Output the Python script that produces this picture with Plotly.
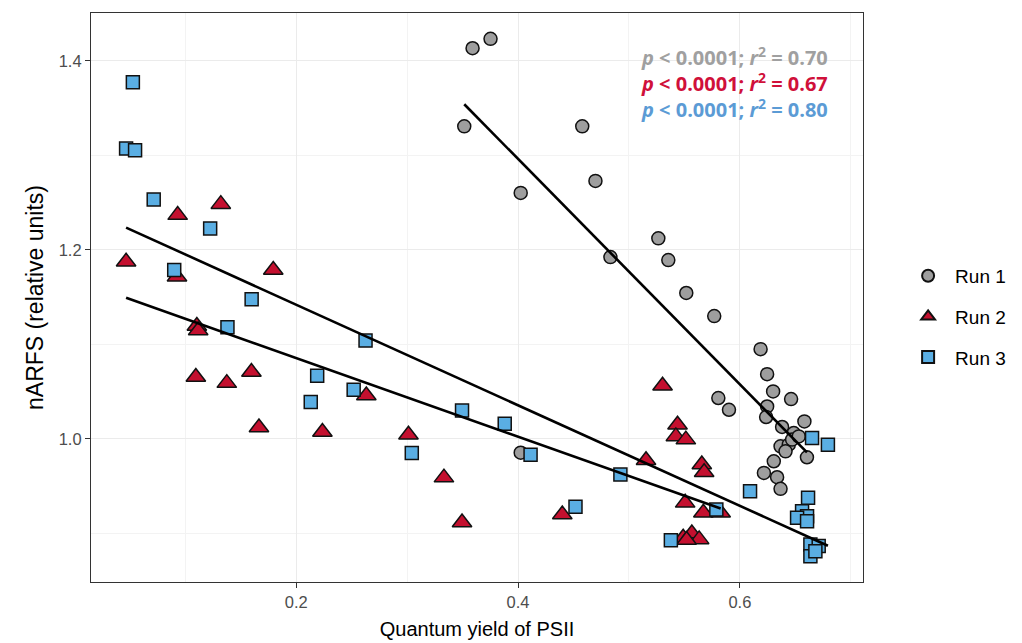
import numpy as np
import plotly.graph_objects as go

# ---- data ----
run1_x = [0.3515, 0.3590, 0.3752, 0.4024, 0.4024, 0.4579, 0.4698, 0.4833, 0.5265, 0.5355,
          0.5517, 0.5769, 0.5806, 0.5902, 0.6187, 0.6246, 0.6300, 0.6462, 0.6246, 0.6237,
          0.6381, 0.6582, 0.6486, 0.6367, 0.6441, 0.6471, 0.6531, 0.6412, 0.6605, 0.6306,
          0.6217, 0.6336, 0.6367]
run1_y = [1.3308, 1.4135, 1.4234, 1.2604, 0.9855, 1.3308, 1.2731, 1.1925, 1.2123, 1.1893,
          1.1545, 1.1300, 1.0433, 1.0309, 1.0950, 1.0686, 1.0503, 1.0422, 1.0344, 1.0232,
          1.0127, 1.0186, 1.0063, 0.9922, 0.9940, 0.9993, 1.0027, 0.9869, 0.9806, 0.9764,
          0.9641, 0.9595, 0.9472]

run2_x = [0.0466, 0.0931, 0.0925, 0.1320, 0.1793, 0.1104, 0.1116, 0.1095, 0.1374, 0.1596,
          0.1664, 0.2236, 0.2632, 0.3012, 0.3332, 0.3495, 0.4399, 0.5154, 0.5303, 0.5438,
          0.5423, 0.5513, 0.5657, 0.5678, 0.5507, 0.5671, 0.5827, 0.5489, 0.5567, 0.5633,
          0.5520]
run2_y = [1.1875, 1.2369, 1.1717, 1.2485, 1.1788, 1.1196, 1.1147, 1.0655, 1.0591, 1.0708,
          1.0122, 1.0074, 1.0460, 1.0045, 0.9591, 0.9116, 0.9200, 0.9774, 1.0563, 1.0151,
          1.0027, 0.9993, 0.9729, 0.9647, 0.9324, 0.9219, 0.9219, 0.8955, 0.9000, 0.8937,
          0.8930]

run3_x = [0.0527, 0.0466, 0.0547, 0.0715, 0.1224, 0.0900, 0.1598, 0.1380, 0.2625, 0.2189,
          0.2131, 0.2518, 0.3042, 0.3495, 0.3880, 0.4113, 0.4518, 0.4923, 0.5378, 0.5788,
          0.6651, 0.6794, 0.6615, 0.6561, 0.6606, 0.6516, 0.6606, 0.6636, 0.6711, 0.6636,
          0.6681, 0.6092]
run3_y = [1.3776, 1.3073, 1.3055, 1.2534, 1.2228, 1.1788, 1.1478, 1.1183, 1.1041, 1.0668,
          1.0391, 1.0521, 0.9852, 1.0300, 1.0162, 0.9833, 0.9282, 0.9623, 0.8929, 0.9253,
          1.0010, 0.9940, 0.9377, 0.9235, 0.9183, 0.9166, 0.9130, 0.8884, 0.8866, 0.8760,
          0.8813, 0.9447]

run_names = ["Run 1", "Run 2", "Run 3"]
p_labels = ["p < 0.0001", "p < 0.0001", "p < 0.0001"]
r2_labels = ["0.70", "0.67", "0.80"]

x_tick_vals = [0.2, 0.4, 0.6]
y_tick_vals = [1.0, 1.2, 1.4]

# ---- styles ----
fills = ["#9E9E9E", "#C4102F", "#5AAEE3"]
text_cols = ["#A0A0A0", "#D0103A", "#5B9BD5"]
symbols = ["circle", "triangle-up", "square"]
sizes = [13, 17, 13]

series = [(run1_x, run1_y), (run2_x, run2_y), (run3_x, run3_y)]

fig = go.Figure()
for i, (xs, ys) in enumerate(series):
    fig.add_trace(go.Scatter(
        x=xs, y=ys, mode="markers", name=run_names[i],
        legendgroup=run_names[i],
        marker=dict(symbol=symbols[i], size=sizes[i], color=fills[i],
                    line=dict(color="#111111", width=1.5)),
    ))

for i, (xs, ys) in enumerate(series):
    xa = np.array(xs)
    ya = np.array(ys)
    slope, icpt = np.polyfit(xa, ya, 1)
    lx = np.array([xa.min(), xa.max()])
    fig.add_trace(go.Scatter(
        x=lx, y=slope * lx + icpt, mode="lines", showlegend=False,
        line=dict(color="black", width=2.6), hoverinfo="skip",
    ))

allx = np.array(run1_x + run2_x + run3_x)
ally = np.array(run1_y + run2_y + run3_y)
dx = allx.max() - allx.min()
dy = ally.max() - ally.min()
xr = [allx.min() - 0.05 * dx, allx.max() + 0.05 * dx]
yr = [ally.min() - 0.05 * dy, ally.max() + 0.05 * dy]

ann_y = [0.923, 0.877, 0.832]
for i in range(3):
    p_txt = p_labels[i].replace("p", "<i>p</i>", 1)
    fig.add_annotation(
        x=0.957, y=ann_y[i], xref="paper", yref="paper",
        xanchor="right", yanchor="middle", showarrow=False,
        text=f"<b>{p_txt}; <i>r</i><sup>2</sup> = {r2_labels[i]}</b>",
        font=dict(family="Open Sans", size=20, color=text_cols[i]),
    )

axis_common = dict(
    showline=True, linecolor="#333333", linewidth=1.2, mirror=True,
    ticks="outside", ticklen=5, tickcolor="#333333", tickwidth=1.1,
    showgrid=True, gridcolor="#EBEBEB", gridwidth=1.1,
    zeroline=False, automargin=False,
    tickfont=dict(family="Liberation Sans, Arial", size=16.5, color="#4D4D4D"),
    minor=dict(showgrid=True, gridcolor="#F3F3F3", gridwidth=0.8, dtick=0.1, tick0=0),
)

fig.update_layout(
    width=1022, height=643,
    margin=dict(l=91, r=158, t=13, b=61),
    paper_bgcolor="white", plot_bgcolor="white",
    xaxis=dict(range=xr, tickvals=x_tick_vals, ticktext=[f"{v:.1f}" for v in x_tick_vals],
               title=dict(text="Quantum yield of PSII", standoff=12,
                          font=dict(family="Liberation Sans, Arial", size=20, color="black")),
               **axis_common),
    yaxis=dict(range=yr, tickvals=y_tick_vals, ticktext=[f"{v:.1f}" for v in y_tick_vals],
               title=dict(text="nARFS (relative units)", standoff=8,
                          font=dict(family="Liberation Sans, Arial", size=23, color="black")),
               **axis_common),
    legend=dict(x=1.048, y=0.466, xanchor="left", yanchor="middle",
                font=dict(family="Liberation Sans, Arial", size=19, color="black"),
                traceorder="grouped", tracegroupgap=13, itemsizing="constant",
                itemwidth=44, bgcolor="rgba(0,0,0,0)"),
    showlegend=True,
)

fig.write_html("out.html")
